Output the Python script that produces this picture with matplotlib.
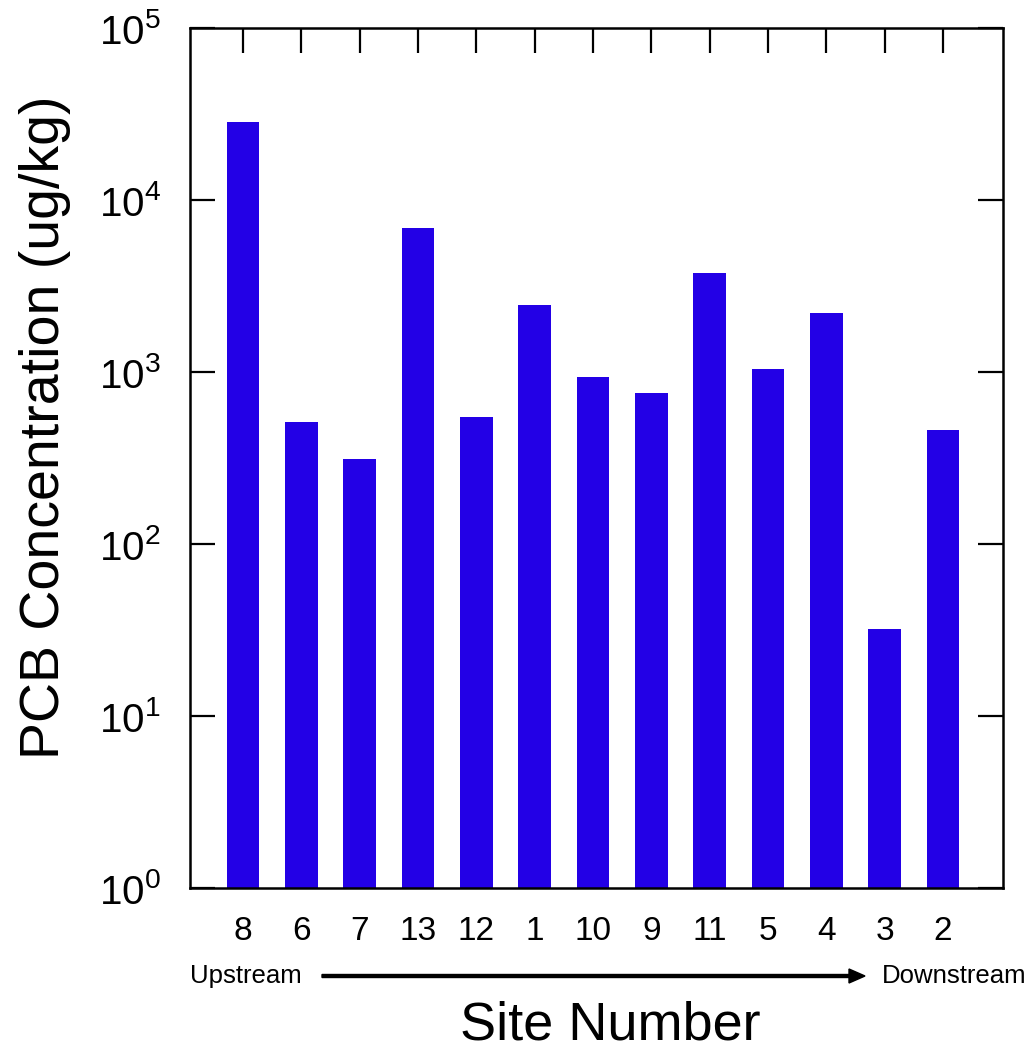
import numpy as np
import matplotlib
matplotlib.use('Agg')
import matplotlib.pyplot as plt

# Font setup: Arial-like look
plt.rcParams['font.family'] = ['Liberation Sans', 'DejaVu Sans']
plt.rcParams['mathtext.fontset'] = 'custom'
plt.rcParams['mathtext.rm'] = 'Liberation Sans'
plt.rcParams['mathtext.it'] = 'Liberation Sans'

# Data (upstream -> downstream order)
siteLabels = ['8', '6', '7', '13', '12', '1', '10', '9', '11', '5', '4', '3', '2']
pcbValues = [28400, 512, 312, 6880, 547, 2450, 935, 755, 3770, 1040, 2200, 32, 460]
yTickValues = [1, 10, 100, 1000, 10000, 100000]
yTickLabels = ['$10^{0}$', '$10^{1}$', '$10^{2}$', '$10^{3}$', '$10^{4}$', '$10^{5}$']

barColor = '#2300e6'

fig = plt.figure(figsize=(10.32, 10.51), dpi=100)
ax = fig.add_axes([190 / 1032, 1 - 888 / 1051, (1003 - 190) / 1032, (888 - 28) / 1051])

xPos = np.arange(len(siteLabels))
ax.bar(xPos, pcbValues, width=0.56, color=barColor, bottom=0)

ax.set_yscale('log')
ax.set_ylim(1, 1e5)
ax.set_xlim(-0.91, 13.03)
ax.set_yticks(yTickValues)
ax.set_yticklabels(yTickLabels)
ax.yaxis.set_minor_locator(matplotlib.ticker.NullLocator())

ax.set_xticks(xPos)
ax.set_xticklabels(siteLabels)

# Ticks inward: y on both sides, x ticks on top only with labels below
ax.tick_params(axis='y', which='major', direction='in', length=18, width=1.6,
               left=True, right=True, labelsize=29, pad=21)
ax.tick_params(axis='x', which='major', direction='in', length=18, width=1.6,
               top=True, bottom=False, labelbottom=True, labelsize=24, pad=20)

for spine in ax.spines.values():
    spine.set_linewidth(1.8)

# Axis titles
fig.text(45 / 1032, 1 - 427 / 1051, 'PCB Concentration (ug/kg)', rotation=90,
         ha='center', va='center', fontsize=40)
fig.text(610 / 1032, 1 - 1025 / 1051, 'Site Number', ha='center', va='center', fontsize=39)

# Upstream / Downstream annotation with arrow
fig.text(190 / 1032, 1 - 976 / 1051, 'Upstream', ha='left', va='center', fontsize=18.5)
fig.text(1027 / 1032, 1 - 976 / 1051, 'Downstream', ha='right', va='center', fontsize=18.5)
fig.patches.append(matplotlib.patches.FancyArrow(
    322 / 1032, 1 - 976 / 1051, (865 - 322) / 1032, 0,
    width=3 / 1051, head_width=14 / 1051, head_length=16 / 1032,
    length_includes_head=True, color='black', transform=fig.transFigure, figure=fig))

fig.savefig('out.png', dpi=100)
